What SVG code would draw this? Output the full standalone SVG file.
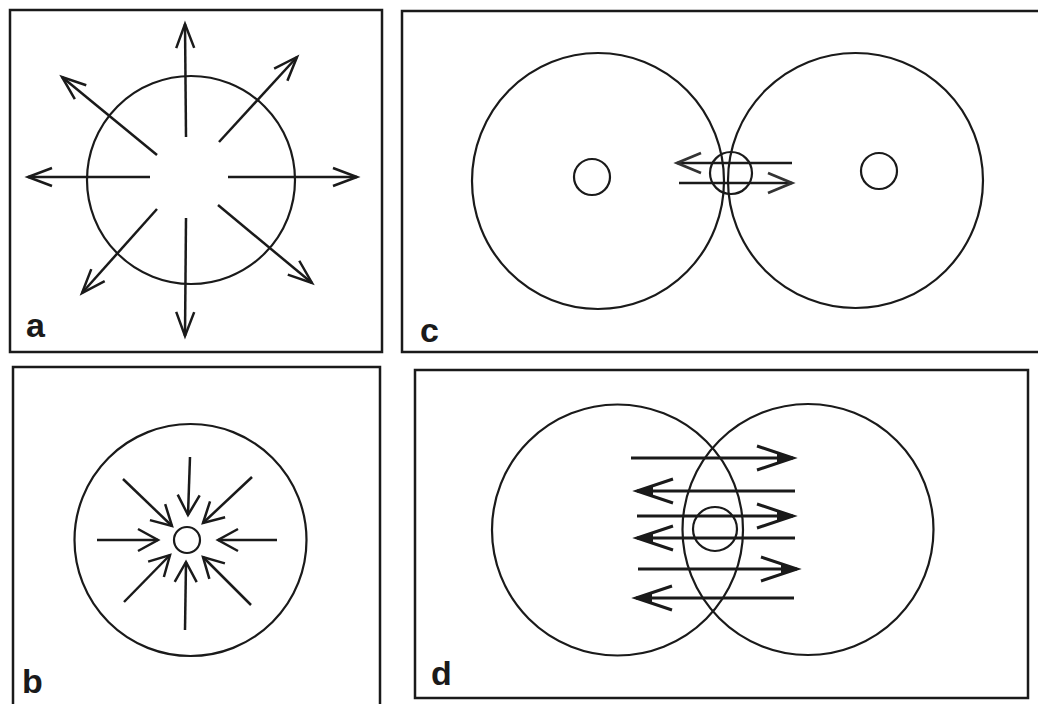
<svg xmlns="http://www.w3.org/2000/svg" width="1038" height="704" viewBox="0 0 1038 704">
<style>
.frame{fill:none;stroke:#1a1a1a;stroke-width:2.5}
.circ{fill:none;stroke:#1a1a1a;stroke-width:2.2}
.arr{fill:none;stroke:#1a1a1a;stroke-width:2.5}
.arrd{fill:none;stroke:#1a1a1a;stroke-width:3}
.lbl{font-family:"Liberation Sans",Arial,sans-serif;font-weight:bold;font-size:34px;fill:#1a1a1a}
</style>
<defs>
<marker id="ha" markerUnits="userSpaceOnUse" orient="auto" refX="0" refY="0" markerWidth="60" markerHeight="60" overflow="visible">
<path d="M-24,-9 L0,0 L-24,9" fill="none" stroke="#1a1a1a" stroke-width="2.5"/>
</marker>
<marker id="hb" markerUnits="userSpaceOnUse" orient="auto" refX="0" refY="0" markerWidth="60" markerHeight="60" overflow="visible">
<path d="M-20,-11 L0,0 L-20,11" fill="none" stroke="#1a1a1a" stroke-width="2.5"/>
</marker>
<marker id="hc" markerUnits="userSpaceOnUse" orient="auto" refX="0" refY="0" markerWidth="60" markerHeight="60" overflow="visible">
<path d="M-24,-10 L0,0 L-24,10" fill="none" stroke="#333" stroke-width="2.8"/>
</marker>
<marker id="hd" markerUnits="userSpaceOnUse" orient="auto" refX="0" refY="0" markerWidth="80" markerHeight="80" overflow="visible">
<path d="M-36,-12 L0,0 L-36,12" fill="none" stroke="#1a1a1a" stroke-width="3"/>
<path d="M-16,-5 L0,0 L-16,5 Z" fill="#1a1a1a"/>
</marker>
</defs>
<rect width="1038" height="704" fill="#ffffff"/>

<g id="panel-a">
<rect class="frame" x="10" y="10" width="372" height="342"/>
<circle class="circ" cx="191" cy="180" r="104"/>
<text class="lbl" x="26" y="337">a</text>
</g>
<g id="panel-b">
<path class="frame" d="M13,706 V367 H380 V706"/>
<circle class="circ" cx="190.5" cy="540" r="116"/>
<circle class="circ" cx="187" cy="540" r="13"/>
<text class="lbl" x="22" y="693">b</text>
</g>
<g id="panel-c">
<path class="frame" d="M1040,11 H402 V352 H1040"/>
<ellipse class="circ" cx="598" cy="181" rx="126" ry="128"/>
<ellipse class="circ" cx="855.5" cy="180.5" rx="127.5" ry="127.5"/>
<circle class="circ" cx="592" cy="177" r="18"/>
<circle class="circ" cx="879" cy="171" r="18"/>
<circle class="circ" cx="731" cy="173" r="21"/>
<text class="lbl" x="420" y="342">c</text>
</g>
<g id="panel-d">
<rect class="frame" x="415" y="370" width="613" height="328"/>
<circle class="circ" cx="617.5" cy="530" r="125.5"/>
<circle class="circ" cx="808" cy="529.5" r="125.5"/>
<circle class="circ" cx="715" cy="529" r="22"/>
<text class="lbl" x="431" y="685">d</text>
</g>

<g id="connectors">
<g class="arr" marker-end="url(#ha)">
<line x1="186" y1="137" x2="185" y2="24"/>
<line x1="228" y1="177" x2="357" y2="177"/>
<line x1="150" y1="177" x2="28" y2="177"/>
<line x1="186" y1="218" x2="185" y2="336"/>
<line x1="157" y1="155" x2="62" y2="77"/>
<line x1="219" y1="142" x2="297" y2="57"/>
<line x1="157" y1="209" x2="82" y2="293"/>
<line x1="218" y1="205" x2="312" y2="283"/>
</g>
<g class="arr" marker-end="url(#hb)">
<line x1="190" y1="457" x2="188" y2="515"/>
<line x1="185" y1="630" x2="186" y2="562"/>
<line x1="97" y1="540" x2="158" y2="540"/>
<line x1="277" y1="540" x2="218" y2="540"/>
<line x1="123" y1="479" x2="172" y2="526"/>
<line x1="252" y1="477" x2="203" y2="523"/>
<line x1="124" y1="602" x2="170" y2="555"/>
<line x1="251" y1="605" x2="203" y2="557"/>
</g>
<g class="arr" marker-end="url(#hc)">
<line x1="792" y1="163" x2="677" y2="163"/>
<line x1="679" y1="183" x2="792" y2="183"/>
</g>
<g class="arrd" marker-end="url(#hd)">
<line x1="631" y1="458" x2="793" y2="458"/>
<line x1="795" y1="491" x2="637" y2="491"/>
<line x1="637" y1="516" x2="793" y2="516"/>
<line x1="795" y1="538" x2="637" y2="538"/>
<line x1="638" y1="569" x2="797" y2="569"/>
<line x1="794" y1="598" x2="636" y2="598"/>
</g>
</g>
</svg>
